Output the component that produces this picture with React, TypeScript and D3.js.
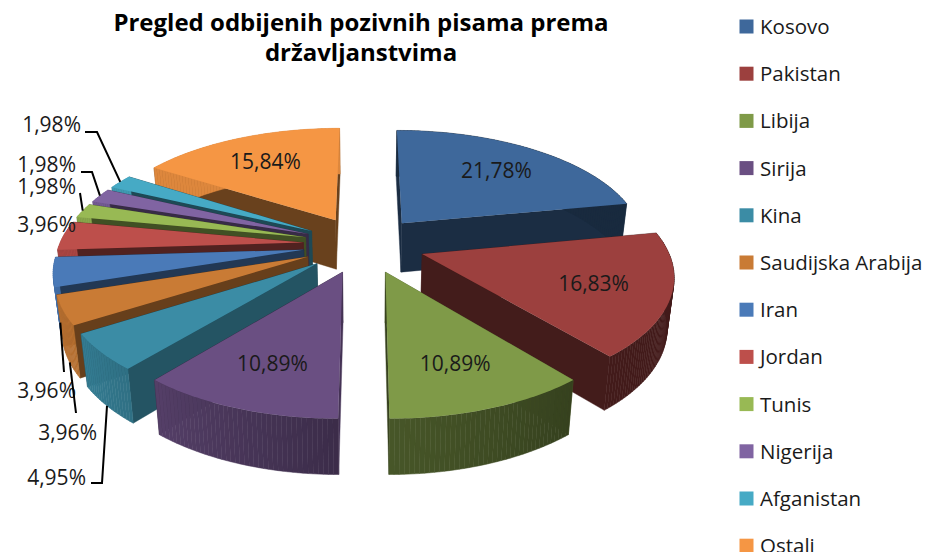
import React from "react";
import * as d3 from "d3";

const categories = ["Kosovo","Pakistan","Libija","Sirija","Kina","Saudijska Arabija","Iran","Jordan","Tunis","Nigerija","Afganistan","Ostali"];
const shares = [21.78,16.83,10.89,10.89,4.95,3.96,3.96,3.96,1.98,1.98,1.98,15.84];
const valueLabels = ["21,78%","16,83%","10,89%","10,89%","4,95%","3,96%","3,96%","3,96%","1,98%","1,98%","1,98%","15,84%"];
const colors = ["#3e689b","#9c403e","#7f9a48","#6a4f82","#3b8ca5","#c97b35","#4a7ab8","#bd4f4b","#98b954","#8064a2","#46aac5","#f59644"];
const titleLines = ["Pregled odbijenih pozivnih pisama prema","državljanstvima"];

// Perspective model of the pie plane
const W = 945, H = 552;
const vanishX = 365, horizonY = -474, persC = 0.0014, persQ = 0.00022, persP = 0.3394;
const centerX = -0.004, centerY = 0.036, explode = 0.25, labelR = 0.7;
const project = (X: number, Y: number): [number, number] => {
  const w = 1 / (persC - persQ * Y);
  return [vanishX + w * persP * X, horizonY + w];
};
const drop = ([x, y]: [number, number]): [number, number] => [
  vanishX + (x - vanishX) * 0.977,
  y + 49 + (y - 223) * 0.0354,
];

const arcShade = d3.scaleLinear().domain([80, 110, 140, 180, 220, 240, 300]).range([0.4, 0.43, 0.42, 0.56, 0.8, 0.9, 0.9]).clamp(true);
const wallShade = d3.scaleLinear().domain([120, 150, 170]).range([0.65, 0.5, 0.43]).clamp(true);
const shadeColor = (c: string, k: number) => {
  const r = d3.rgb(c);
  return d3.rgb(r.r * k, r.g * k, r.b * k).formatHex();
};
const line = d3.line<[number, number]>();

const pieGen = d3.pie<number>().sort(null).startAngle(0).endAngle(2 * Math.PI);
const arcs = pieGen(shares).map((a, i) => {
  const mid = (a.startAngle + a.endAngle) / 2;
  const ax = centerX + explode * Math.sin(mid);
  const ay = centerY - explode * Math.cos(mid);
  const at = (ang: number, r: number) => project(ax + r * Math.sin(ang), ay - r * Math.cos(ang));
  const n = Math.max(2, Math.ceil((a.endAngle - a.startAngle) / (Math.PI / 180)));
  const samples = d3.range(n + 1).map((k) => a.startAngle + ((a.endAngle - a.startAngle) * k) / n);
  return { i, a, mid, ax, ay, at, samples };
});
const order = [...arcs].sort((p, q) => -Math.cos(p.mid) - -Math.cos(q.mid));

// Callout layout for the small slices: text anchor end, baseline, elbow points
const callouts = [
  { i: 10, tx: 81, ty: 132, elbows: [[85, 132], [97, 132]], bottom: false },
  { i: 9, tx: 76, ty: 172, elbows: [[81, 172], [92, 172]], bottom: false },
  { i: 8, tx: 76, ty: 194, elbows: [[80, 193]], bottom: false },
  { i: 7, tx: 76, ty: 232, elbows: [], bottom: false, plain: true },
  { i: 6, tx: 76, ty: 398, elbows: [[64, 372]], bottom: true },
  { i: 5, tx: 97, ty: 440, elbows: [[76, 413]], bottom: true },
  { i: 4, tx: 86, ty: 485, elbows: [[91, 483], [102, 483]], bottom: true },
];
const font = "'Open Sans', sans-serif";

export default function App() {
  return (
    <svg width={W} height={H} viewBox={`0 0 ${W} ${H}`} style={{ position: "absolute", left: 0, top: 0, background: "#fff" }}>
      {titleLines.map((t, i) => (
        <text key={t} x={361} y={31 + i * 30} textAnchor="middle" fontFamily={font} fontWeight={700} fontSize={24} fill="#000">{t}</text>
      ))}
      {order.map(({ i, a, at, samples }) => {
        const col = colors[i];
        const apex = at(0, 0);
        const s = at(a.startAngle, 1);
        const e = at(a.endAngle, 1);
        const startNormal = ((a.startAngle * 180) / Math.PI + 270) % 360;
        const endNormal = ((a.endAngle * 180) / Math.PI + 90) % 360;
        const startFill = shadeColor(col, wallShade(startNormal > 270 ? 170 : startNormal));
        const endFill = shadeColor(col, 0.43 + 0 * endNormal);
        const walls = [
          { pts: [apex, s, drop(s), drop(apex)], fill: startFill, y: (apex[1] + s[1]) / 2 },
          { pts: [apex, e, drop(e), drop(apex)], fill: endFill, y: (apex[1] + e[1]) / 2 },
        ].sort((p, q) => p.y - q.y);
        const top = [apex, ...samples.map((t) => at(t, 1))] as [number, number][];
        return (
          <g key={i}>
            {walls.map((w, k) => (
              <path key={k} d={line(w.pts as [number, number][]) + "Z"} fill={w.fill} stroke={w.fill} strokeWidth={0.4} />
            ))}
            {samples.slice(1).map((t, k) => {
              const p0 = at(samples[k], 1);
              const p1 = at(t, 1);
              const fill = shadeColor(col, arcShade((((samples[k] + t) / 2) * 180) / Math.PI));
              return <path key={k} d={line([p0, p1, drop(p1), drop(p0)]) + "Z"} fill={fill} stroke={fill} strokeWidth={0.5} />;
            })}
            <path d={line(top) + "Z"} fill={col} />
          </g>
        );
      })}
      {arcs.filter((d) => shares[d.i] > 10).map((d) => {
        const [x, y] = d.at(d.mid, labelR);
        return <text key={d.i} x={x} y={y + 8} textAnchor="middle" fontFamily={font} fontSize={21} fill="#1a1a1a">{valueLabels[d.i]}</text>;
      })}
      {callouts.map((c) => {
        const d = arcs[c.i];
        const o = d.at(d.mid, 1);
        const end = c.bottom ? drop(o) : o;
        const pts = [...c.elbows, end] as [number, number][];
        return (
          <g key={c.i}>
            {!c.plain && <path d={line(pts) ?? ""} fill="none" stroke="#000" strokeWidth={2} />}
            <text x={c.tx} y={c.ty} textAnchor="end" fontFamily={font} fontSize={21} fill="#1a1a1a">{valueLabels[c.i]}</text>
          </g>
        );
      })}
      {categories.map((c, i) => {
        const y = 27 + i * 47.2;
        return (
          <g key={c}>
            <rect x={739.5} y={y - 7.5} width={14} height={14} fill={colors[i]} />
            <text x={760} y={y + 7} fontFamily={font} fontSize={20.5} fill="#1a1a1a">{c}</text>
          </g>
        );
      })}
    </svg>
  );
}
